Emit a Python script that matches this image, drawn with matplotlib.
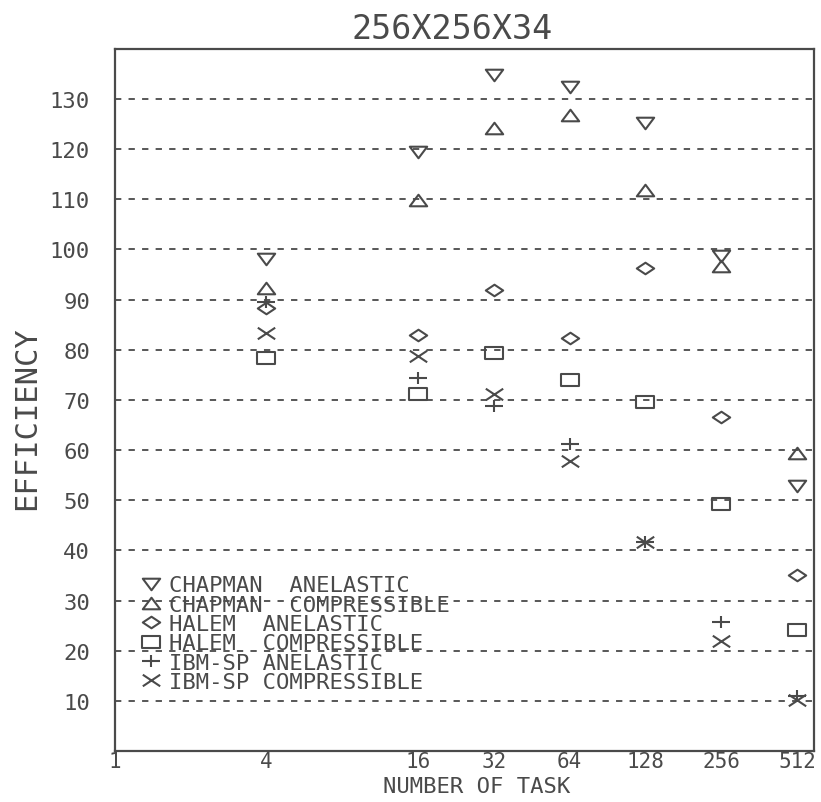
import numpy as np
import matplotlib.pyplot as plt
from matplotlib.path import Path

# data
tasks = [4, 16, 32, 64, 128, 256, 512]
chapman_anelastic = [98.0, 119.4, 134.8, 132.3, 125.3, 98.6, 52.8]
chapman_compressible = [92.3, 109.8, 124.2, 126.8, 111.8, 96.7, 59.4]
halem_anelastic = [88.3, 82.9, 91.9, 82.4, 96.3, 66.6, 35.1]
halem_compressible = [78.4, 71.2, 79.4, 74.0, 69.6, 49.3, 24.1]
ibm_anelastic = [89.6, 74.4, 68.7, 61.3, 41.6, 25.8, 10.9]
ibm_compressible = [83.3, 78.8, 71.2, 57.9, 41.6, 21.9, 10.1]

labels = ['CHAPMAN  ANELASTIC', 'CHAPMAN  COMPRESSIBLE', 'HALEM  ANELASTIC',
          'HALEM  COMPRESSIBLE', 'IBM-SP ANELASTIC', 'IBM-SP COMPRESSIBLE']
xticks = [1, 4, 16, 32, 64, 128, 256, 512]
yticks = [10, 20, 30, 40, 50, 60, 70, 80, 90, 100, 110, 120, 130]

# wide, flat marker shapes (like the old plotter symbols)
M, L, C = Path.MOVETO, Path.LINETO, Path.CLOSEPOLY
tri_down = Path([(-1.5, 1), (1.5, 1), (0, -1), (-1.5, 1)], [M, L, L, C])
tri_up = Path([(-1.5, -1), (1.5, -1), (0, 1), (-1.5, -1)], [M, L, L, C])
diamond = Path([(-1.5, 0), (0, 1), (1.5, 0), (0, -1), (-1.5, 0)], [M, L, L, L, C])
rect = Path([(-1.5, -1), (1.5, -1), (1.5, 1), (-1.5, 1), (-1.5, -1)], [M, L, L, L, C])
plus = Path([(-1.5, 0), (1.5, 0), (0, -1), (0, 1)], [M, L, M, L])
cross = Path([(-1.5, -1), (1.5, 1), (-1.5, 1), (1.5, -1)], [M, L, M, L])

series = [chapman_anelastic, chapman_compressible, halem_anelastic,
          halem_compressible, ibm_anelastic, ibm_compressible]
markers = [tri_down, tri_up, diamond, rect, plus, cross]

ink = '#4a4a4a'
font = 'DejaVu Sans Mono'
plt.rcParams['font.family'] = font

fig = plt.figure(figsize=(8.21, 8.03), dpi=100)
ax = fig.add_axes([0.140, 0.0635, 0.851, 0.8745])

for vals, mk, lab in zip(series, markers, labels):
    ax.plot(tasks, vals, linestyle='none', marker=mk, markersize=12.5,
            markerfacecolor='none', markeredgecolor=ink, markeredgewidth=1.5,
            label=lab)

for y in yticks:
    ax.axhline(y, color=ink, lw=1.3, dashes=(3.5, 4), zorder=0)

ax.set_xscale('log', base=2)
ax.set_xlim(1, 2 ** 9.22)
ax.set_ylim(0, 140)
ax.set_xticks(xticks)
ax.set_xticklabels([str(t) for t in xticks])
ax.minorticks_off()
ax.set_yticks(yticks)
ax.set_yticklabels([str(t) for t in yticks])
ax.tick_params(length=0, colors=ink)
ax.tick_params(axis='y', labelsize=16, pad=18)
ax.tick_params(axis='x', labelsize=15, pad=0)

for s in ax.spines.values():
    s.set_color(ink)
    s.set_linewidth(1.6)

ax.set_title('256X256X34', fontsize=24, color=ink, pad=8, x=0.483)
ax.set_xlabel('NUMBER OF TASK', fontsize=16, color=ink)
ax.xaxis.set_label_coords(0.518, -0.0355)
ax.set_ylabel('EFFICIENCY', fontsize=22, color=ink)
ax.yaxis.set_label_coords(-0.105, 0.476)

leg = ax.legend(loc='lower left', bbox_to_anchor=(0.02, 0.068), frameon=False,
                fontsize=16, labelspacing=-0.03, handlelength=1.0,
                handletextpad=0.3, borderpad=0, labelcolor=ink)

fig.savefig('out.png', dpi=100)
